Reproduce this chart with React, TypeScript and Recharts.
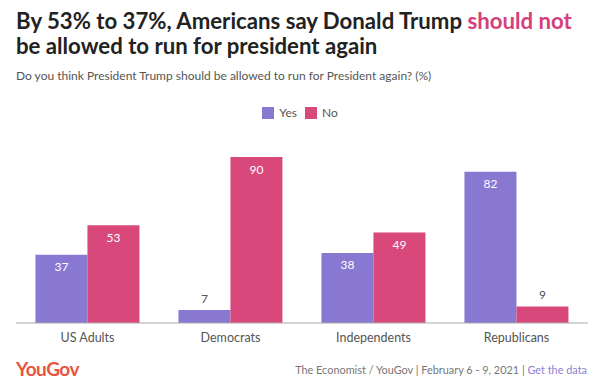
import { BarChart, Bar, XAxis, YAxis, LabelList } from "recharts";

const categories = ["US Adults", "Democrats", "Independents", "Republicans"];
const yesValues = [37, 7, 38, 82];
const noValues = [53, 90, 49, 9];
const seriesNames = ["Yes", "No"];
const seriesColors = ["#8878d2", "#d8487b"];

const data = categories.map((group, i) => ({
  group,
  Yes: yesValues[i],
  No: noValues[i],
}));

const FONT = "Lato, 'Open Sans', sans-serif";

function ValueLabel(props: any) {
  const { x, y, width, value } = props;
  const small = value < 15;
  return (
    <text
      x={x + width / 2}
      y={small ? y - 12 : y + 12}
      textAnchor="middle"
      dominantBaseline="central"
      fontSize={12}
      fontFamily={FONT}
      fill={small ? "#555" : "#fff"}
    >
      {value}
    </text>
  );
}

export default function App() {
  return (
    <div
      style={{
        position: "absolute",
        left: 0,
        top: 0,
        width: 600,
        height: 392,
        background: "#fff",
        fontFamily: FONT,
        overflow: "hidden",
      }}
    >
      <div
        style={{
          position: "absolute",
          left: 16,
          top: 8,
          width: 580,
          fontSize: 22.2,
          fontWeight: 700,
          lineHeight: "25px",
          color: "#222",
        }}
      >
        By 53% to 37%, Americans say Donald Trump{" "}
        <span style={{ color: "#d6407a" }}>should not</span>
        <br />
        be allowed to run for president again
      </div>
      <div
        style={{
          position: "absolute",
          left: 16,
          top: 68,
          fontSize: 12,
          color: "#555",
        }}
      >
        Do you think President Trump should be allowed to run for President
        again? (%)
      </div>

      <div
        style={{
          position: "absolute",
          left: 0,
          top: 105,
          width: 600,
          display: "flex",
          justifyContent: "center",
          gap: 8,
          fontSize: 12,
          color: "#555",
        }}
      >
        {seriesNames.map((name, i) => (
          <div key={name} style={{ display: "flex", alignItems: "center" }}>
            <span
              style={{
                display: "inline-block",
                width: 12,
                height: 12,
                background: seriesColors[i],
                marginRight: 5,
              }}
            />
            {name}
          </div>
        ))}
      </div>

      <div style={{ position: "absolute", left: 0, top: 0 }}>
        <BarChart
          width={600}
          height={392}
          data={data}
          margin={{ top: 157, right: 12, bottom: 39, left: 16 }}
          barCategoryGap="13.6%"
          barGap={0}
        >
          <XAxis
            dataKey="group"
            tickLine={false}
            axisLine={{ stroke: "#aaa" }}
            tick={{ fill: "#555", fontSize: 12.5, fontFamily: FONT }}
            tickMargin={4}
          />
          <YAxis hide domain={[0, 90]} />
          {seriesNames.map((name, i) => (
            <Bar
              key={name}
              dataKey={name}
              fill={seriesColors[i]}
              isAnimationActive={false}
            >
              <LabelList dataKey={name} content={<ValueLabel />} />
            </Bar>
          ))}
        </BarChart>
      </div>

      <div
        style={{
          position: "absolute",
          left: 16,
          top: 357,
          fontSize: 19,
          fontWeight: 700,
          color: "#e8553f",
          letterSpacing: -0.5,
        }}
      >
        YouGov
      </div>
      <div
        style={{
          position: "absolute",
          right: 13,
          top: 363,
          fontSize: 10.9,
          color: "#777",
        }}
      >
        The Economist / YouGov | February 6 - 9, 2021 |{" "}
        <span style={{ color: "#8a7fd3" }}>Get the data</span>
      </div>
    </div>
  );
}
